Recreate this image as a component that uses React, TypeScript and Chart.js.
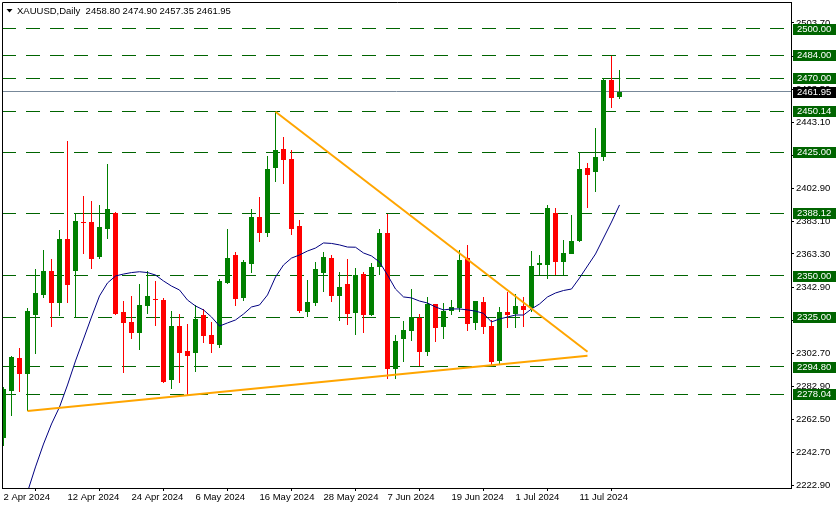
import React, { useEffect, useRef } from 'react';
import { Chart, registerables } from 'chart.js';

Chart.register(...registerables);

// ---- categories (trading days) ----
const dates: string[] = [
  '2 Apr 2024', '3 Apr 2024', '4 Apr 2024', '5 Apr 2024', '8 Apr 2024', '9 Apr 2024', '10 Apr 2024', '11 Apr 2024',
  '12 Apr 2024', '15 Apr 2024', '16 Apr 2024', '17 Apr 2024', '18 Apr 2024', '19 Apr 2024', '22 Apr 2024', '23 Apr 2024',
  '24 Apr 2024', '25 Apr 2024', '26 Apr 2024', '29 Apr 2024', '30 Apr 2024', '1 May 2024', '2 May 2024', '3 May 2024',
  '6 May 2024', '7 May 2024', '8 May 2024', '9 May 2024', '10 May 2024', '13 May 2024', '14 May 2024', '15 May 2024',
  '16 May 2024', '17 May 2024', '20 May 2024', '21 May 2024', '22 May 2024', '23 May 2024', '24 May 2024', '27 May 2024',
  '28 May 2024', '29 May 2024', '30 May 2024', '31 May 2024', '3 Jun 2024', '4 Jun 2024', '5 Jun 2024', '6 Jun 2024',
  '7 Jun 2024', '10 Jun 2024', '11 Jun 2024', '12 Jun 2024', '13 Jun 2024', '14 Jun 2024', '17 Jun 2024', '18 Jun 2024',
  '19 Jun 2024', '20 Jun 2024', '21 Jun 2024', '24 Jun 2024', '25 Jun 2024', '26 Jun 2024', '27 Jun 2024', '28 Jun 2024',
  '1 Jul 2024', '2 Jul 2024', '3 Jul 2024', '4 Jul 2024', '5 Jul 2024', '8 Jul 2024', '9 Jul 2024', '10 Jul 2024',
  '11 Jul 2024', '12 Jul 2024', '15 Jul 2024', '16 Jul 2024', '17 Jul 2024', '18 Jul 2024',
];

// ---- OHLC series ----
const open: number[] = [
  2251.7, 2280.2, 2300.1, 2290.5, 2326.4, 2338.6, 2353.0, 2333.7, 2372.4, 2353.1,
  2382.9, 2382.7, 2361.6, 2378.7, 2388.0, 2328.0, 2322.0, 2315.5, 2331.9, 2335.9,
  2335.3, 2286.9, 2319.5, 2304.3, 2303.3, 2326.2, 2314.1, 2308.0, 2345.7, 2362.7,
  2336.5, 2357.2, 2385.8, 2376.2, 2415.7, 2426.9, 2420.8, 2380.3, 2328.2, 2333.7,
  2351.7, 2360.8, 2337.9, 2345.1, 2327.4, 2351.1, 2326.4, 2355.4, 2376.2, 2293.6,
  2311.6, 2316.7, 2324.4, 2303.9, 2332.7, 2319.1, 2328.6, 2330.3, 2361.0, 2321.5,
  2334.1, 2319.5, 2298.4, 2327.9, 2326.6, 2331.7, 2330.3, 2356.6, 2356.8, 2388.2,
  2358.6, 2363.3, 2371.4, 2415.5, 2413.3, 2422.4, 2469.2, 2458.80,
];
const high: number[] = [
  2282.5, 2301.5, 2306.2, 2330.5, 2354.2, 2365.7, 2360.2, 2377.9, 2431.9, 2388.0,
  2398.5, 2395.5, 2393.1, 2418.0, 2389.0, 2334.7, 2337.8, 2345.1, 2353.0, 2346.9,
  2336.4, 2328.6, 2327.0, 2320.7, 2332.3, 2329.9, 2322.1, 2347.9, 2378.5, 2364.3,
  2359.4, 2390.6, 2397.9, 2422.8, 2449.7, 2434.4, 2426.3, 2383.9, 2347.5, 2358.6,
  2364.5, 2362.7, 2352.2, 2360.2, 2355.0, 2352.2, 2357.8, 2378.7, 2387.6, 2313.9,
  2322.4, 2341.8, 2327.0, 2337.2, 2332.9, 2333.3, 2335.3, 2365.7, 2368.7, 2334.9,
  2337.2, 2323.2, 2330.9, 2340.4, 2338.8, 2337.0, 2365.1, 2362.7, 2393.2, 2391.2,
  2371.8, 2387.0, 2425.1, 2418.8, 2439.8, 2470.0, 2483.6, 2474.90,
];
const low: number[] = [
  2246.8, 2265.0, 2279.6, 2267.9, 2302.7, 2336.7, 2319.1, 2325.8, 2333.7, 2324.2,
  2363.1, 2354.4, 2360.0, 2372.6, 2326.5, 2291.2, 2311.8, 2305.1, 2326.6, 2319.7,
  2285.1, 2281.4, 2285.1, 2277.6, 2291.8, 2309.4, 2303.3, 2306.3, 2345.2, 2331.9,
  2334.7, 2351.7, 2370.8, 2373.8, 2407.2, 2406.0, 2375.0, 2327.2, 2324.8, 2331.9,
  2340.2, 2334.3, 2322.8, 2320.3, 2314.2, 2315.5, 2325.8, 2350.5, 2287.1, 2287.5,
  2297.8, 2310.6, 2295.2, 2301.5, 2309.8, 2311.8, 2326.2, 2327.9, 2316.7, 2317.1,
  2314.9, 2295.2, 2296.0, 2318.5, 2318.5, 2319.1, 2328.2, 2350.5, 2347.9, 2350.5,
  2350.5, 2363.0, 2370.8, 2391.4, 2401.1, 2420.0, 2451.8, 2457.35,
];
const close: number[] = [
  2281.3, 2300.9, 2290.5, 2328.6, 2339.4, 2353.0, 2333.7, 2372.4, 2344.6, 2383.3,
  2382.3, 2360.4, 2379.7, 2390.6, 2327.0, 2321.5, 2315.5, 2332.3, 2337.8, 2335.3,
  2285.7, 2319.5, 2303.3, 2301.5, 2323.8, 2313.6, 2308.4, 2346.9, 2360.8, 2335.9,
  2358.2, 2385.8, 2376.2, 2414.9, 2426.3, 2420.6, 2378.3, 2328.8, 2334.1, 2354.2,
  2361.5, 2337.9, 2343.2, 2327.0, 2350.5, 2326.4, 2355.6, 2376.2, 2293.2, 2310.4,
  2317.1, 2324.8, 2303.9, 2332.7, 2318.5, 2328.6, 2331.1, 2359.6, 2320.7, 2334.7,
  2318.9, 2297.7, 2328.0, 2326.2, 2331.9, 2329.3, 2356.0, 2357.8, 2391.2, 2358.6,
  2363.7, 2371.2, 2414.9, 2411.5, 2422.2, 2469.0, 2458.3, 2461.95,
];

// ---- moving average (navy line) ----
const ma: (number | null)[] = [
  null, null, null, 2218.7, 2233.9, 2247.8, 2260.0, 2270.3, 2283.7, 2298.3,
  2311.6, 2325.0, 2337.8, 2345.7, 2349.9, 2351.1, 2352.0, 2352.5, 2352.0, 2350.5,
  2346.9, 2343.8, 2341.4, 2335.3, 2331.7, 2329.3, 2325.0, 2319.5, 2321.4, 2323.2,
  2326.8, 2331.1, 2332.3, 2338.4, 2349.3, 2356.6, 2360.8, 2362.7, 2365.1, 2366.9,
  2370.0, 2369.7, 2368.8, 2367.5, 2367.4, 2363.9, 2362.1, 2358.4, 2350.5, 2342.0,
  2337.2, 2336.6, 2334.7, 2333.5, 2331.1, 2329.3, 2329.9, 2329.9, 2329.3, 2328.6,
  2327.2, 2322.0, 2323.8, 2325.0, 2326.2, 2326.2, 2329.9, 2332.9, 2337.2, 2339.6,
  2341.1, 2342.0, 2348.7, 2356.0, 2363.3, 2373.0, 2382.7, 2393.1,
];

// ---- horizontal levels / labels ----
const levels: number[] = [2500.0, 2484.0, 2470.0, 2450.14, 2425.0, 2388.12, 2350.0, 2325.0, 2294.8, 2278.04];
const bidPrice = 2461.95;
const yTicks: number[] = [
  2222.9, 2242.7, 2262.5, 2282.9, 2302.7, 2323.1, 2342.9, 2363.3, 2383.1, 2402.9,
  2423.3, 2443.1, 2463.5, 2483.3, 2503.7,
];
const xTickIndices: number[] = [0, 8, 16, 24, 32, 40, 48, 56, 64, 72];

// solid horizontal segments [level, fromIndex, toIndex]
const segLevels: number[] = [2388.12, 2425.0, 2470.0, 2350.0];
const segFrom: number[] = [9, 72, 75, 66];
const segTo: number[] = [14, 75, 77.1, 70];

// triangle trend lines
const upperTrendX: number[] = [34, 73];
const upperTrendY: number[] = [2449.75, 2303.9];
const lowerTrendX: number[] = [3, 73];
const lowerTrendY: number[] = [2267.9, 2301.5];

const headerText = 'XAUUSD,Daily  2458.80 2474.90 2457.35 2461.95';

const UP = '#008000';
const DN = '#ff0000';
const LEVEL = '#006400';
const FONT = 'Liberation Sans';

export default function App() {
  const ref = useRef<HTMLCanvasElement>(null);

  useEffect(() => {
    const canvas = ref.current;
    if (!canvas) return;
    const xMin = -0.1875;
    const xMax = 98.4375;
    const yMin = 2221.1;
    const yMax = 2516.4;

    const colors = dates.map((_, i) => (close[i] >= open[i] ? UP : DN));

    const levelSets: any[] = levels.map((v) => ({
      type: 'line',
      data: [{ x: xMin, y: v }, { x: xMax, y: v }],
      borderColor: LEVEL,
      borderWidth: 1,
      borderDash: [14, 10],
      pointRadius: 0,
      fill: false,
      crisp: true,
      order: 7,
    }));
    const segSets: any[] = segLevels.map((v, k) => ({
      type: 'line',
      data: [{ x: segFrom[k], y: v }, { x: segTo[k], y: v }],
      borderColor: LEVEL,
      borderWidth: 1,
      pointRadius: 0,
      fill: false,
      crisp: true,
      order: 6,
    }));

    // snap horizontal lines and bar ends to whole pixels (as the terminal renders them)
    const crisp = {
      id: 'crisp',
      afterDatasetsUpdate(chart: any) {
        chart.data.datasets.forEach((ds: any, di: number) => {
          const meta = chart.getDatasetMeta(di);
          if (ds.crisp) {
            meta.data.forEach((p: any) => {
              p.y = Math.round(p.y - 0.5) + 0.5;
            });
          } else if (ds.type === 'bar') {
            meta.data.forEach((b: any) => {
              b.y = Math.round(b.y);
              b.base = Math.round(b.base);
              if (b.y === b.base) b.base = b.y + 1;
            });
          }
        });
      },
    };

    const decor = {
      id: 'decor',
      afterDraw(chart: any) {
        const ctx = chart.ctx;
        const area = chart.chartArea;
        const ys = chart.scales.y;
        ctx.save();
        // frame top & left
        ctx.strokeStyle = '#000';
        ctx.lineWidth = 1;
        ctx.beginPath();
        ctx.moveTo(area.left + 0.5, area.bottom);
        ctx.lineTo(area.left + 0.5, area.top + 0.5);
        ctx.lineTo(area.right + 1, area.top + 0.5);
        ctx.stroke();

        ctx.font = `9.5px "${FONT}"`;
        ctx.textBaseline = 'middle';
        ctx.textAlign = 'left';
        const boxL = area.right + 2;
        const boxW = 837 - boxL - 1;
        levels.forEach((v) => {
          const y = Math.round(ys.getPixelForValue(v));
          ctx.fillStyle = LEVEL;
          ctx.fillRect(boxL, y - 5, boxW, 11);
          ctx.fillStyle = '#fff';
          ctx.fillText(v.toFixed(2), boxL + 4, y + 0.5);
        });
        const by = Math.round(ys.getPixelForValue(bidPrice));
        ctx.fillStyle = '#000';
        ctx.fillRect(boxL, by - 5, boxW, 11);
        ctx.fillStyle = '#fff';
        ctx.fillText(bidPrice.toFixed(2), boxL + 4, by + 0.5);

        // header
        ctx.fillStyle = '#000';
        ctx.beginPath();
        ctx.moveTo(6.5, 9);
        ctx.lineTo(12.5, 9);
        ctx.lineTo(9.5, 12.5);
        ctx.closePath();
        ctx.fill();
        ctx.fillText(headerText, 17, 11);
        ctx.restore();
      },
    };

    const chart = new Chart(canvas, {
      type: 'bar',
      data: {
        datasets: [
          ...levelSets,
          ...segSets,
          {
            type: 'line',
            data: [{ x: xMin, y: bidPrice }, { x: xMax, y: bidPrice }],
            borderColor: '#778899',
            borderWidth: 1,
            pointRadius: 0,
            fill: false,
            crisp: true,
            order: 5,
          },
          {
            type: 'bar',
            data: dates.map((_, i) => ({ x: i, y: [low[i], high[i]] })),
            backgroundColor: colors,
            borderWidth: 0,
            barThickness: 1,
            grouped: false,
            inflateAmount: 0,
            minBarLength: 1,
            order: 4,
          },
          {
            type: 'bar',
            data: dates.map((_, i) => ({ x: i, y: [open[i], close[i]] })),
            backgroundColor: colors,
            borderWidth: 0,
            barThickness: 5,
            grouped: false,
            inflateAmount: 0,
            minBarLength: 1,
            order: 3,
          },
          {
            type: 'line',
            data: ma.map((v, i) => ({ x: i, y: v })).filter((p) => p.y !== null),
            borderColor: '#000080',
            borderWidth: 1,
            pointRadius: 0,
            tension: 0,
            fill: false,
            order: 2,
          },
          {
            type: 'line',
            data: upperTrendX.map((x, k) => ({ x, y: upperTrendY[k] })),
            borderColor: '#ffa500',
            borderWidth: 2,
            pointRadius: 0,
            fill: false,
            order: 1,
          },
          {
            type: 'line',
            data: lowerTrendX.map((x, k) => ({ x, y: lowerTrendY[k] })),
            borderColor: '#ffa500',
            borderWidth: 2,
            pointRadius: 0,
            fill: false,
            order: 1,
          },
        ] as any,
      },
      options: {
        animation: false,
        responsive: false,
        events: [],
        layout: { padding: { top: 2, left: 2, right: 0, bottom: 0 } },
        plugins: { legend: { display: false }, tooltip: { enabled: false } },
        scales: {
          x: {
            type: 'linear',
            min: xMin,
            max: xMax,
            offset: false,
            grid: { display: true, drawOnChartArea: false, drawTicks: true, tickLength: 3, color: '#000' },
            border: { display: true, color: '#000' },
            ticks: {
              align: 'start',
              autoSkip: false,
              maxRotation: 0,
              padding: 1,
              color: '#000',
              font: { family: FONT, size: 9.5 },
              callback: (v: any) => dates[Math.round(v)] ?? '',
            },
            afterBuildTicks: (s: any) => {
              s.ticks = xTickIndices.map((v) => ({ value: v }));
            },
            afterFit: (s: any) => {
              s.height = 21;
              s.paddingLeft = 0;
              s.paddingRight = 0;
            },
          },
          y: {
            type: 'linear',
            position: 'right',
            min: yMin,
            max: yMax,
            grid: { display: true, drawOnChartArea: false, drawTicks: true, tickLength: 3, color: '#000' },
            border: { display: true, color: '#000' },
            ticks: {
              padding: 2,
              color: '#000',
              font: { family: FONT, size: 9.5 },
              callback: (v: any) => Number(v).toFixed(2),
            },
            afterBuildTicks: (s: any) => {
              s.ticks = yTicks.map((v) => ({ value: v }));
            },
            afterFit: (s: any) => {
              s.width = 46;
              s.paddingTop = 0;
              s.paddingBottom = 0;
            },
          },
        },
      } as any,
      plugins: [crisp, decor],
    });
    return () => chart.destroy();
  }, []);

  return (
    <div style={{ position: 'fixed', left: 0, top: 0, width: 837, height: 509, background: '#fff' }}>
      <canvas ref={ref} width={837} height={509} style={{ display: 'block', width: 837, height: 509 }} />
    </div>
  );
}
